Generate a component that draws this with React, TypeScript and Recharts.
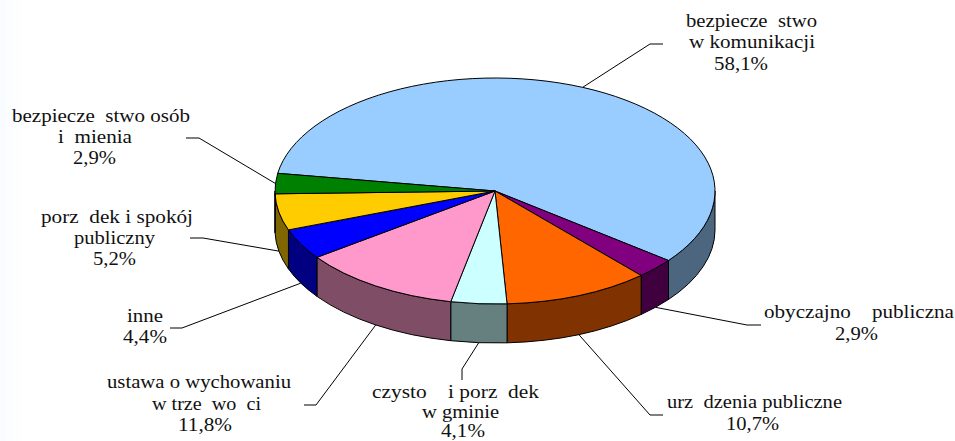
import React from 'react';
import { PieChart, Pie, Cell } from 'recharts';

const categories = [
  'bezpieczeństwo w komunikacji',
  'obyczajność publiczna',
  'urządzenia publiczne',
  'czystość i porządek w gminie',
  'ustawa o wychowaniu w trzeźwości',
  'inne',
  'porządek i spokój publiczny',
  'bezpieczeństwo osób i mienia',
];
const shares = [58.1, 2.9, 10.7, 4.1, 11.8, 4.4, 5.2, 2.9];
const topColors = ['#99CCFF', '#800080', '#FF6600', '#CCFFFF', '#FF99CC', '#0000FF', '#FFCC00', '#008000'];
const wallColors = ['#4D6680', '#400040', '#803300', '#668080', '#804D66', '#000080', '#806600', '#004000'];
const labelLines = [
  ['bezpiecze  stwo', 'w komunikacji', '58,1%'],
  ['obyczajno    publiczna', '2,9%'],
  ['urz  dzenia publiczne', '10,7%'],
  ['czysto    i porz  dek', 'w gminie', '4,1%'],
  ['ustawa o wychowaniu', 'w trze  wo  ci', '11,8%'],
  ['inne', '4,4%'],
  ['porz  dek i spokój', 'publiczny', '5,2%'],
  ['bezpiecze  stwo osób', 'i  mienia', '2,9%'],
];

// Layout of the annotations: text line [left, baseline, width], leader elbow and end.
const labelBoxes = [
  [[686, 27, 131], [689, 48, 126], [714, 70, 54]],
  [[764, 318, 190], [835, 340, 43]],
  [[667, 408, 175], [726, 430, 53]],
  [[372, 398, 167], [422, 418, 77], [441, 437, 44]],
  [[107, 388, 184], [152, 410, 109], [178, 431, 54]],
  [[127, 322, 36], [123, 343, 44]],
  [[41, 223, 152], [74, 244, 81], [93, 265, 43]],
  [[12, 122, 178], [58, 143, 74], [73, 164, 43]],
];
const leaderBends = [
  [[650, 44], [663, 44]],
  [[747, 325], [761, 325]],
  [[650, 415], [663, 415]],
  [[462, 369], [462, 380]],
  [[316, 405], [304, 405]],
  [[182, 328], [170, 328]],
  [[203, 238], [190, 238]],
  [[199, 138], [186, 138]],
];

const WIDTH = 955;
const HEIGHT = 441;
const CX = 495;
const CY = 191;
const RX = 220;
const RY = 113;
const DEPTH = 39;
const SQUASH = RY / RX;

const px = (cx: number, r: number, a: number) => cx + r * Math.cos((a * Math.PI) / 180);
const py = (cy: number, r: number, a: number) => cy - r * SQUASH * Math.sin((a * Math.PI) / 180);

// Sector squashed to an ellipse, with the visible part of its rim below it.
function Slice3D(props: any) {
  const { cx, cy, outerRadius: r, startAngle, endAngle, index } = props;
  const ry = r * SQUASH;
  // Screen-clockwise angles from east
  const t0 = -startAngle;
  const t1 = -endAngle;
  const sp = (t: number) => [cx + r * Math.cos((t * Math.PI) / 180), cy + ry * Math.sin((t * Math.PI) / 180)];
  const [sx, sy] = sp(t0);
  const [ex, ey] = sp(t1);
  const large = t1 - t0 > 180 ? 1 : 0;
  const top = `M${cx},${cy} L${sx},${sy} A${r},${ry} 0 ${large} 1 ${ex},${ey} Z`;

  const walls: string[] = [];
  for (const k of [-360, 0, 360]) {
    const a = Math.max(t0, k);
    const b = Math.min(t1, k + 180);
    if (b > a) {
      const [ax, ay] = sp(a);
      const [bx, by] = sp(b);
      walls.push(
        `M${ax},${ay} A${r},${ry} 0 0 1 ${bx},${by} L${bx},${by + DEPTH} A${r},${ry} 0 0 0 ${ax},${ay + DEPTH} Z`
      );
    }
  }
  return (
    <g>
      {walls.map((d, i) => (
        <path key={i} d={d} fill={wallColors[index]} stroke="#000" strokeWidth={1} strokeLinejoin="round" />
      ))}
      <path d={top} fill={topColors[index]} stroke="#000" strokeWidth={1} strokeLinejoin="round" />
    </g>
  );
}

function SliceLabel(props: any) {
  const { cx, cy, outerRadius: r, midAngle, index } = props;
  const front = Math.sin((midAngle * Math.PI) / 180) < 0;
  const x0 = px(cx, r, midAngle);
  const y0 = py(cy, r, midAngle) + (front ? DEPTH : 0);
  const [b, e] = leaderBends[index];
  return (
    <g>
      <polyline
        points={`${x0},${y0} ${b[0]},${b[1]} ${e[0]},${e[1]}`}
        fill="none"
        stroke="#000"
        strokeWidth={1}
      />
      {labelLines[index].map((t, i) => {
        const [x, y, w] = labelBoxes[index][i];
        return (
          <text
            key={i}
            x={x}
            y={y}
            textLength={w}
            lengthAdjust="spacingAndGlyphs"
            fontFamily="'Liberation Serif', serif"
            fontSize={18}
            fill="#111"
            style={{ whiteSpace: 'pre' }}
          >
            {t}
          </text>
        );
      })}
    </g>
  );
}

const tableData = categories.map((name, i) => ({ name, value: shares[i] }));

export default function App() {
  return (
    <div
      style={{
        position: 'absolute',
        left: 0,
        top: 0,
        width: WIDTH,
        height: HEIGHT,
        background: 'linear-gradient(90deg, #f8fbff, #ffffff 24px)',
      }}
    >
      <PieChart width={WIDTH} height={HEIGHT} margin={{ top: 0, right: 0, bottom: 0, left: 0 }}>
        <Pie
          data={tableData}
          dataKey="value"
          nameKey="name"
          cx={CX}
          cy={CY}
          innerRadius={0}
          outerRadius={RX}
          startAngle={171}
          endAngle={-189}
          paddingAngle={0}
          stroke="#000"
          isAnimationActive={false}
          shape={Slice3D}
          label={SliceLabel}
          labelLine={false}
        >
          {tableData.map((d, i) => (
            <Cell key={d.name} fill={topColors[i]} />
          ))}
        </Pie>
      </PieChart>
    </div>
  );
}
